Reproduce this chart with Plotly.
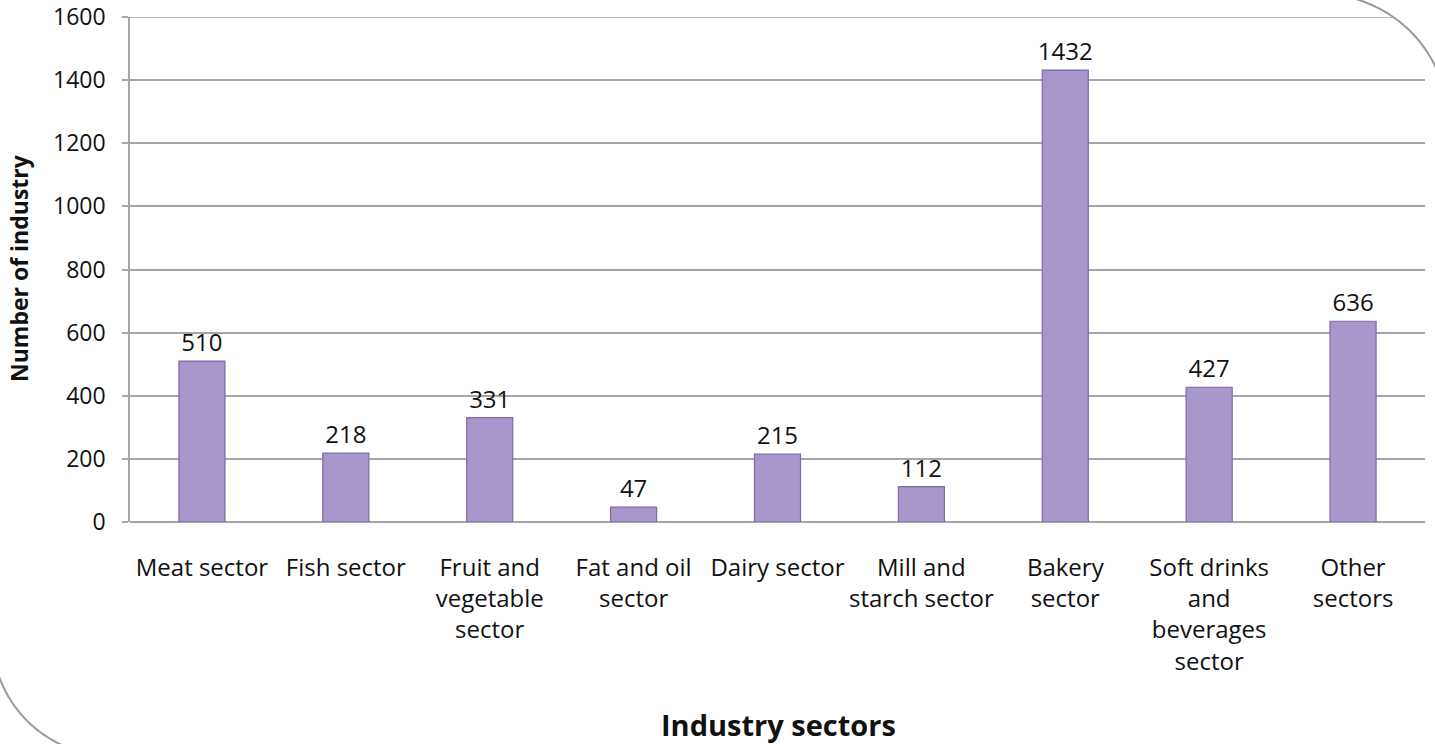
import numpy as np
import plotly.graph_objects as go

categories = ["Meat sector", "Fish sector", "Fruit and<br>vegetable<br>sector", "Fat and oil<br>sector",
              "Dairy sector", "Mill and<br>starch sector", "Bakery<br>sector",
              "Soft drinks<br>and<br>beverages<br>sector", "Other<br>sectors"]
values = [510, 218, 331, 47, 215, 112, 1432, 427, 636]
y_ticks = [0, 200, 400, 600, 800, 1000, 1200, 1400, 1600]

W, H = 1435, 744
L, R, T, B = 130, 10, 17, 222
pw, ph = W - L - R, H - T - B

def px(x):
    return (x - L) / pw

def py(y):
    return (H - B - y) / ph

def arc_path(cx, cy, r, a0, a1, n=60):
    a = np.linspace(a0, a1, n)
    xs = cx + r * np.cos(a)
    ys = cy + r * np.sin(a)
    pts = [f"{px(x):.5f},{py(y):.5f}" for x, y in zip(xs, ys)]
    return "M" + " L".join(pts)

font = "'Open Sans', sans-serif"
gray = "#a6a6a6"

fig = go.Figure()
fig.add_trace(go.Bar(
    x=categories, y=values, width=0.32,
    marker=dict(color="#a797cd", line=dict(color="#7c69a8", width=1.2)),
    text=[str(v) for v in values], textposition="outside", constraintext="none",
    textfont=dict(family=font, size=24, color="#111"),
    cliponaxis=False, hoverinfo="skip",
))

shapes = [
    dict(type="line", xref="paper", yref="y", x0=0, x1=px(1393),
         y0=y_ticks[-1], y1=y_ticks[-1], line=dict(color=gray, width=1.6), layer="below"),
    dict(type="path", xref="paper", yref="paper",
         path=arc_path(1320, 122, 128, -np.pi / 2 - 0.15, 0.25),
         line=dict(color="#9a9a9a", width=2)),
    dict(type="path", xref="paper", yref="paper",
         path=arc_path(112, 636, 120, np.pi - 0.25, np.pi / 2 + 0.15),
         line=dict(color="#9a9a9a", width=2)),
]

fig.update_layout(
    width=W, height=H,
    margin=dict(l=L, r=R, t=T, b=B),
    paper_bgcolor="white", plot_bgcolor="white",
    showlegend=False,
    font=dict(family=font, color="#111"),
    shapes=shapes,
    xaxis=dict(showgrid=False, showline=False, tickfont=dict(size=24, color="#111"),
               ticks="", ticklabelstandoff=29, fixedrange=True, automargin=False),
    yaxis=dict(range=[0, 1600], tickvals=y_ticks, showgrid=True, gridcolor=gray,
               gridwidth=1.6, zeroline=True, zerolinecolor=gray, zerolinewidth=1.6,
               showline=True, linecolor=gray, linewidth=1.6,
               ticks="outside", ticklen=6, tickcolor=gray, tickwidth=1.6,
               tickfont=dict(size=23, color="#111"), ticklabelstandoff=12,
               ticklabeloverflow="allow", automargin=False, fixedrange=True),
    annotations=[
        dict(text="<b>Number of industry</b>", textangle=-90, xref="paper", yref="paper",
             x=px(19), y=py(268), xanchor="center", yanchor="middle", showarrow=False,
             font=dict(size=23, family=font, color="#111")),
        dict(text="<b>Industry sectors</b>", xref="paper", yref="paper",
             x=px(778), y=py(724), xanchor="center", yanchor="middle", showarrow=False,
             font=dict(size=29, family=font, color="#111")),
    ],
)

fig.write_html("out.html", config={"displayModeBar": False},
               post_script="document.body.style.margin='0';")
